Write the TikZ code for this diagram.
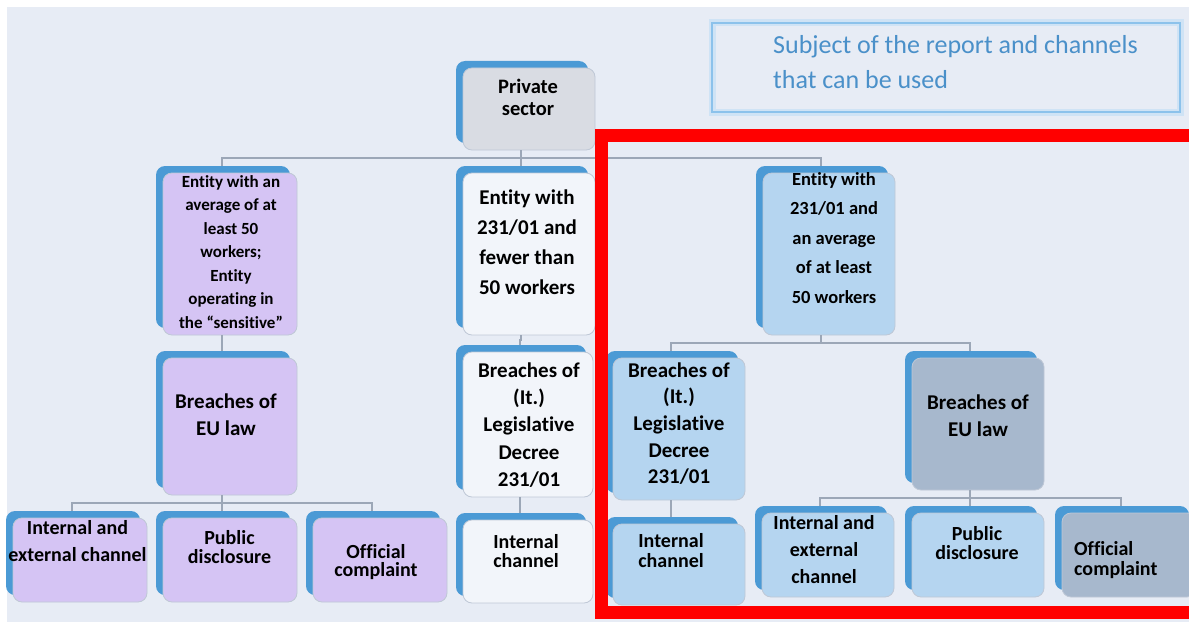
\documentclass[tikz,border=0pt]{standalone}
\usepackage{fontspec}
\setmainfont{Carlito}[Ligatures=CommonOff]
\usetikzlibrary{shadows,calc}

\definecolor{panel}{HTML}{E7ECF5}
\definecolor{shblue}{HTML}{4B9AD5}
\definecolor{boxline}{HTML}{BFC8D6}
\definecolor{lavender}{HTML}{D5C4F4}
\definecolor{palebox}{HTML}{F2F5FA}
\definecolor{lblue}{HTML}{B5D5F0}
\definecolor{gblue}{HTML}{A7B8CD}
\definecolor{privgrey}{HTML}{D9DCE3}
\definecolor{connc}{HTML}{9CA7B7}
\definecolor{subjline}{HTML}{8CC2EB}
\definecolor{subjglow}{HTML}{CFE3F5}
\definecolor{subjtext}{HTML}{4A90C9}
\definecolor{frame}{HTML}{FF0000}

\begin{document}
\begin{tikzpicture}[x=1pt,y=-1pt,
  box/.style={rectangle, rounded corners=9pt, draw=boxline, line width=0.8pt,
    inner sep=0pt,
    general shadow={fill=shblue, shadow xshift=-7pt, shadow yshift=7pt}},
  lbl/.style={align=center, inner sep=0pt, text=black},
  fs/.style 2 args={font=\fontsize{#1}{#2}\selectfont\bfseries},
  conn/.style={draw=connc, line width=1.5pt},
  subj/.style={draw=subjline, line width=2.5pt, inner sep=0pt,
    preaction={draw=subjglow, line width=7pt}},
  frameline/.style={draw=frame, line width=13pt},
]
\clip (0,0) rectangle (1189,626);
\fill[white] (0,0) rectangle (1189,626);
\fill[panel] (7,7) rectangle (1189,622);

% title box
\node[subj, minimum width=468pt, minimum height=89pt] (subject) at (946,67.5) {};
\node[anchor=west, inner sep=0pt, align=left, text=subjtext,
  font=\fontsize{26}{35}\selectfont] (subject-t) at (773,61.7)
  {Subject of the report and channels\\that can be used};

% level 0
\node[box, fill=privgrey, minimum width=132pt, minimum height=82pt] (priv) at (529,109) {};
% level 1
\node[box, fill=lavender, minimum width=134pt, minimum height=162pt] (ent1) at (230,254) {};
\node[box, fill=palebox, minimum width=132pt, minimum height=162pt] (ent2) at (529,254) {};
\node[box, fill=lblue, minimum width=132pt, minimum height=162pt] (ent3) at (829,254) {};
% level 2
\node[box, fill=lavender, minimum width=134pt, minimum height=137pt] (eu1) at (230,426.5) {};
\node[box, fill=palebox, minimum width=130pt, minimum height=145pt] (dec2) at (528,424.5) {};
\node[box, fill=lblue, minimum width=132pt, minimum height=142pt] (dec3) at (679,429) {};
\node[box, fill=gblue, minimum width=132pt, minimum height=132pt] (eu3) at (978,424) {};
% level 3
\node[box, fill=lavender, minimum width=134pt, minimum height=84pt] (ch1a) at (80,560) {};
\node[box, fill=lavender, minimum width=134pt, minimum height=84pt] (ch1b) at (230,560) {};
\node[box, fill=lavender, minimum width=134pt, minimum height=84pt] (ch1c) at (380,560) {};
\node[box, fill=palebox, minimum width=130pt, minimum height=83pt] (ch2) at (528,561.5) {};
\node[box, fill=lblue, minimum width=132pt, minimum height=81pt] (ch3a) at (679,564.5) {};
\node[box, fill=lblue, minimum width=132pt, minimum height=84pt] (ch3b) at (828,555) {};
\node[box, fill=lblue, minimum width=132pt, minimum height=84pt] (ch3c) at (978,555) {};
\node[box, fill=gblue, minimum width=134pt, minimum height=84pt] (ch3d) at (1129,555) {};

% labels
\node[lbl, fs={20.5}{22}] (priv-t) at (528,97.2) {Private\\sector};
\node[lbl, fs={17}{23.5}] (ent1-t) at (231,252) {Entity with an\\average of at\\least 50\\workers;\\Entity\\operating in\\the “sensitive”};
\node[lbl, fs={21}{30}] (ent2-t) at (527,242.7) {Entity with\\231/01 and\\fewer than\\50 workers};
\node[lbl, fs={18.5}{29.5}] (ent3-t) at (834,238) {Entity with\\231/01 and\\an average\\of at least\\50 workers};
\node[lbl, fs={21}{26.7}] (eu1-t) at (226,415) {Breaches of\\EU law};
\node[lbl, fs={21}{27.3}] (dec2-t) at (529,425) {Breaches of\\(It.)\\Legislative\\Decree\\231/01};
\node[lbl, fs={21}{26.7}] (dec3-t) at (679,423.7) {Breaches of\\(It.)\\Legislative\\Decree\\231/01};
\node[lbl, fs={21}{26.7}] (eu3-t) at (978,416) {Breaches of\\EU law};
\node[lbl, fs={20}{27.7}] (ch1a-t) at (77.5,541) {Internal and\\external channel};
\node[lbl, fs={20}{18.5}] (ch1b-t) at (229.5,547) {Public\\disclosure};
\node[lbl, fs={20}{18.5}] (ch1c-t) at (376,562) {Official\\complaint};
\node[lbl, fs={20}{19}] (ch2-t) at (526,551) {Internal\\channel};
\node[lbl, fs={20}{20}] (ch3a-t) at (671,551) {Internal\\channel};
\node[lbl, fs={20}{26.7}] (ch3b-t) at (824,549.7) {Internal and\\external\\channel};
\node[lbl, fs={20}{19.3}] (ch3c-t) at (977,543.3) {Public\\disclosure};
\node[lbl, fs={20}{20}, align=left, anchor=west] (ch3d-t) at (1074,560) {Official\\complaint};

% connector end points: under each box and on top of its blue backing
\foreach \n in {priv,ent1,ent2,ent3,eu1,dec2,dec3,eu3,ch1a,ch1b,ch1c,ch2,ch3a,ch3b,ch3c,ch3d}{
  \coordinate (\n-top) at ([xshift=-8pt,yshift=7pt]\n.north);
  \coordinate (\n-bot) at ([xshift=-8pt]\n.south);
}

% tree connectors
\foreach \p/\c in {priv/ent1,priv/ent2,priv/ent3,
                   ent1/eu1,ent2/dec2,ent3/dec3,ent3/eu3,
                   eu1/ch1a,eu1/ch1b,eu1/ch1c,dec2/ch2,dec3/ch3a,
                   eu3/ch3b,eu3/ch3c,eu3/ch3d}{
  \draw[conn] (\p-bot) |- ($(\p-bot)!.5!(\c-top)$) -| (\c-top);
}

% highlight frame
\draw[frameline] (601.5,135) rectangle (1195,612.5);
\end{tikzpicture}
\end{document}
